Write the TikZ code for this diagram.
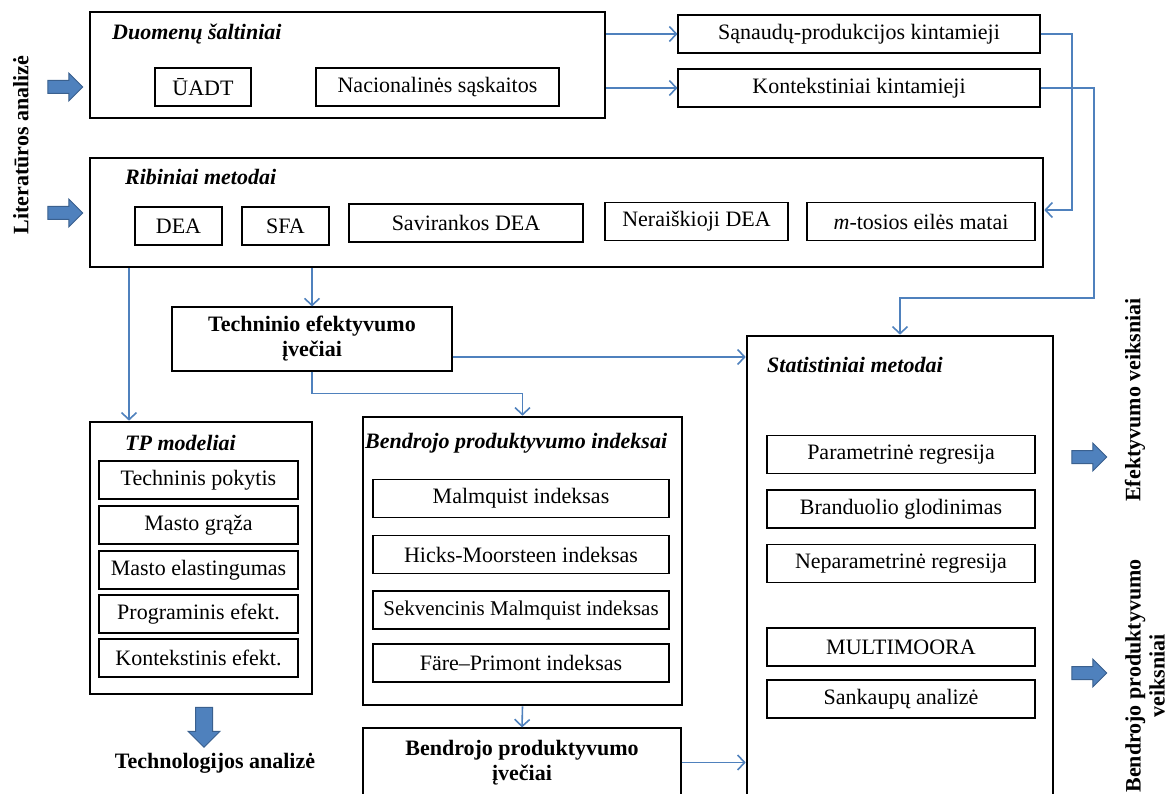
\documentclass[tikz,border=0pt]{standalone}
\usepackage{fontspec}
\setmainfont{Liberation Serif}
\usetikzlibrary{arrows.meta,shapes.arrows,positioning}
\definecolor{linkblue}{RGB}{79,129,189}
\definecolor{arrowedge}{RGB}{58,96,142}
\newcommand{\diagfont}{\fontsize{22}{25}\selectfont}
\tikzstyle{bigbox}=[draw,line width=2.6pt,inner sep=0pt]
\tikzstyle{smallbox}=[draw,line width=1.1pt,inner sep=0pt,minimum
height=38pt,font=\diagfont]
\tikzstyle{ttl}=[anchor=west,inner sep=0pt,font=\diagfont\bfseries\itshape]
\tikzstyle{conn}=[draw=linkblue,line width=1.6pt,-{Straight Barb[length=7pt,width=15pt]}]
\tikzstyle{blk}=[single arrow,draw=arrowedge,fill=linkblue,line width=1pt,inner
sep=6pt,minimum height=35pt,single arrow head extend=7.5pt]
\tikzstyle{side}=[rotate=90,align=center,inner sep=0pt,font=\fontsize{22}{24}\selectfont\bfseries]

\begin{document}
\begin{tikzpicture}[x=1pt, y=-1pt]
  \useasboundingbox (0,0) rectangle (1167,794);

  % data sources
  \node[bigbox, minimum width=515pt, minimum height=106pt] (duom) at (347.5,65) {};
  \node[ttl] (duomt) at (112,34) {Duomenų šaltiniai};
  \node[smallbox, minimum width=96pt] (uadt) at (203,87) {ŪADT};
  \node[smallbox, minimum width=243pt] (nac) at (437.5,87) {Nacionalinės sąskaitos};
  \node[smallbox, minimum width=362pt] (sana) at (859,34) {Sąnaudų-produkcijos kintamieji};
  \node[smallbox, minimum width=362pt] (kont) at (859,88) {Kontekstiniai kintamieji};

  % frontier methods
  \node[bigbox, minimum width=953pt, minimum height=109pt] (ribin) at (566.5,212.5) {};
  \node[ttl] (ribint) at (125,177) {Ribiniai metodai};
  \node[smallbox, minimum width=87pt] (dea) at (178.5,226) {DEA};
  \node[smallbox, minimum width=87pt] (sfa) at (285.5,226) {SFA};
  \node[smallbox, minimum width=234pt] (savir) at (466,223) {Savirankos DEA};
  \node[smallbox, minimum width=183pt] (nerai) at (696.5,221.5) {Neraiškioji DEA};
  \node[smallbox, minimum width=228pt] (mtos) at (921,221.5) {\textit{m}-tosios eilės matai};

  \node[smallbox, minimum width=280pt, minimum height=64pt, align=center,
  font=\diagfont\bfseries] (tech) at (312,339) {Techninio efektyvumo\\įvečiai};

  % TP models
  \node[bigbox, minimum width=222pt, minimum height=272pt] (tp) at (201,558) {};
  \node[ttl] (tpt) at (125,443) {TP modeliai};
  \node[smallbox, minimum width=199pt] (tp1) at (198.5,480) {Techninis pokytis};
  \node[smallbox, minimum width=199pt] (tp2) at (198.5,525) {Masto grąža};
  \node[smallbox, minimum width=199pt] (tp3) at (198.5,570) {Masto elastingumas};
  \node[smallbox, minimum width=199pt] (tp4) at (198.5,614) {Programinis efekt.};
  \node[smallbox, minimum width=199pt] (tp5) at (198.5,658) {Kontekstinis efekt.};

  % productivity indices
  \node[bigbox, minimum width=319pt, minimum height=288pt] (bpi) at (522.5,561) {};
  \node[ttl] (bpit) at (365,443) {Bendrojo produktyvumo indeksai};
  \node[smallbox, minimum width=296pt] (bp1) at (521,498.5) {Malmquist indeksas};
  \node[smallbox, minimum width=296pt] (bp2) at (521,554.5) {Hicks-Moorsteen indeksas};
  \node[smallbox, minimum width=296pt, font=\fontsize{21}{24}\selectfont] (bp3) at (521,610) {Sekvencinis Malmquist indeksas};
  \node[smallbox, minimum width=296pt] (bp4) at (521,663) {Färe–Primont indeksas};
  \node[smallbox, minimum width=318pt, minimum height=69pt, align=center,
  font=\diagfont\bfseries] (bpiv) at (522,762.5) {Bendrojo produktyvumo\\įvečiai};

  % statistical methods
  \node[bigbox, minimum width=306pt, minimum height=462pt] (stat) at (900,567) {};
  \node[ttl] (statt) at (767,365) {Statistiniai metodai};
  \node[smallbox, minimum width=268pt] (st1) at (901,454.5) {Parametrinė regresija};
  \node[smallbox, minimum width=268pt] (st2) at (901,509) {Branduolio glodinimas};
  \node[smallbox, minimum width=268pt] (st3) at (901,563.5) {Neparametrinė regresija};
  \node[smallbox, minimum width=268pt] (st4) at (901,647) {MULTIMOORA};
  \node[smallbox, minimum width=268pt] (st5) at (901,699) {Sankaupų analizė};

  % block arrows and side labels
  \node[blk] (la1) at (62,87) {};
  \node[blk] (la2) at (62,213) {};
  \node[blk] (ra1) at (1086,457) {};
  \node[blk] (ra2) at (1086,673) {};
  \node[blk, shape border rotate=270, minimum height=40pt, inner sep=8pt] (da) at (204,723) {};
  \node[side] (lit) at (21,145) {Literatūros analizė};
  \node[side] (efv) at (1135,400) {Efektyvumo veiksniai};
  \node[side] (bpv) at (1145,676) {Bendrojo produktyvumo\\veiksniai};
  \node[font=\diagfont\bfseries] (tan) at (215,763) {Technologijos analizė};

  % connectors
  \coordinate (bendA) at (1072,210);
  \coordinate (bendB) at (1094,298);
  \coordinate (tpx) at (129,0);
  \coordinate (techy) at (0,357);
  \draw[conn] (duom.east |- sana) -- (sana.west);
  \draw[conn] (duom.east |- kont) -- (kont.west);
  \draw[conn] (sana.east) -| (bendA) -- (ribin.east |- bendA);
  \draw[conn] (kont.east) -| (bendB) -| (stat.north);
  \draw[conn] (ribin.south -| tpx) -- (tp.north -| tpx);
  \draw[conn] (ribin.south -| tech.north) -- (tech.north);
  \draw[conn] (tech.east |- techy) -- (stat.west |- techy);
  \draw[conn] (tech.south) -- ++(0,22) -| (bpi.north);
  \draw[conn] (bpi.south) -- (bpiv.north);
  \draw[conn] (bpiv.east) -- (stat.west |- bpiv.east);
\end{tikzpicture}
\end{document}
